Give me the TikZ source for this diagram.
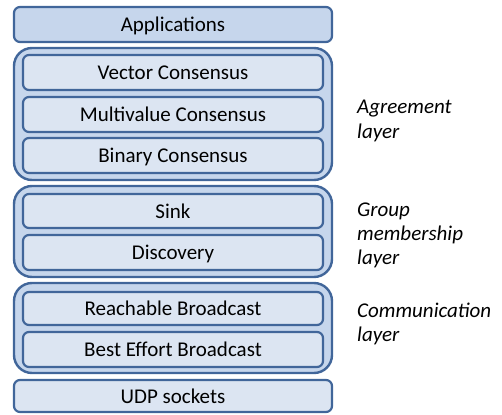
\documentclass[tikz,border=0pt]{standalone}
\usepackage{fontspec}
\setmainfont{Carlito}
\definecolor{bordc}{HTML}{41669A}
\definecolor{outerf}{HTML}{C6D6EC}
\definecolor{innerf}{HTML}{DCE5F2}
\begin{document}
\begin{tikzpicture}[x=1pt,y=-1pt,
  box/.style={draw=bordc,line width=2.2pt,rounded corners=6pt,fill=innerf},
  groupbox/.style={draw=bordc,line width=2.4pt,rounded corners=18pt,fill=outerf},
  lbl/.style={font=\fontsize{21}{21}\selectfont,text=black,anchor=base,inner sep=0pt},
  side/.style={font=\fontsize{21}{21}\selectfont\itshape,anchor=base west,inner sep=0pt}]
\useasboundingbox (0,0) rectangle (502,414);
% groups
\draw[groupbox] (14,48) rectangle (332,180);
\draw[groupbox] (14,186) rectangle (332,277);
\draw[groupbox] (14,283) rectangle (332,373);
% top / bottom
\draw[box,fill=outerf] (14,7) rectangle (332,42);
\node[lbl] (app) at (173,31.5) {Applications};
\draw[box] (14,380) rectangle (332,412);
\node[lbl] (udp) at (173,403) {UDP sockets};
% agreement
\draw[box] (23,55) rectangle (323,90);
\node[lbl] (vec) at (173,79.5) {Vector Consensus};
\draw[box] (23,97) rectangle (323,132);
\node[lbl] (mul) at (173,121.5) {Multivalue Consensus};
\draw[box] (23,138) rectangle (323,173);
\node[lbl] (bin) at (173,162.5) {Binary Consensus};
% group membership
\draw[box] (23,194) rectangle (323,228);
\node[lbl] (sink) at (173,218) {Sink};
\draw[box] (23,235) rectangle (323,270);
\node[lbl] (disc) at (173,259.5) {Discovery};
% communication
\draw[box] (23,292) rectangle (323,325);
\node[lbl] (reach) at (173,315.5) {Reachable Broadcast};
\draw[box] (23,332) rectangle (323,367);
\node[lbl] (best) at (173,356.5) {Best Effort Broadcast};
% side labels
\node[side] (agl1) at (357,114) {Agreement};
\node[side] (agl2) at (357,138.5) {layer};
\node[side] (gml1) at (357,216) {Group};
\node[side] (gml2) at (357,240) {membership};
\node[side] (gml3) at (357,264) {layer};
\node[side] (cml1) at (357,317) {Communication};
\node[side] (cml2) at (357,341) {layer};
\end{tikzpicture}
\end{document}
